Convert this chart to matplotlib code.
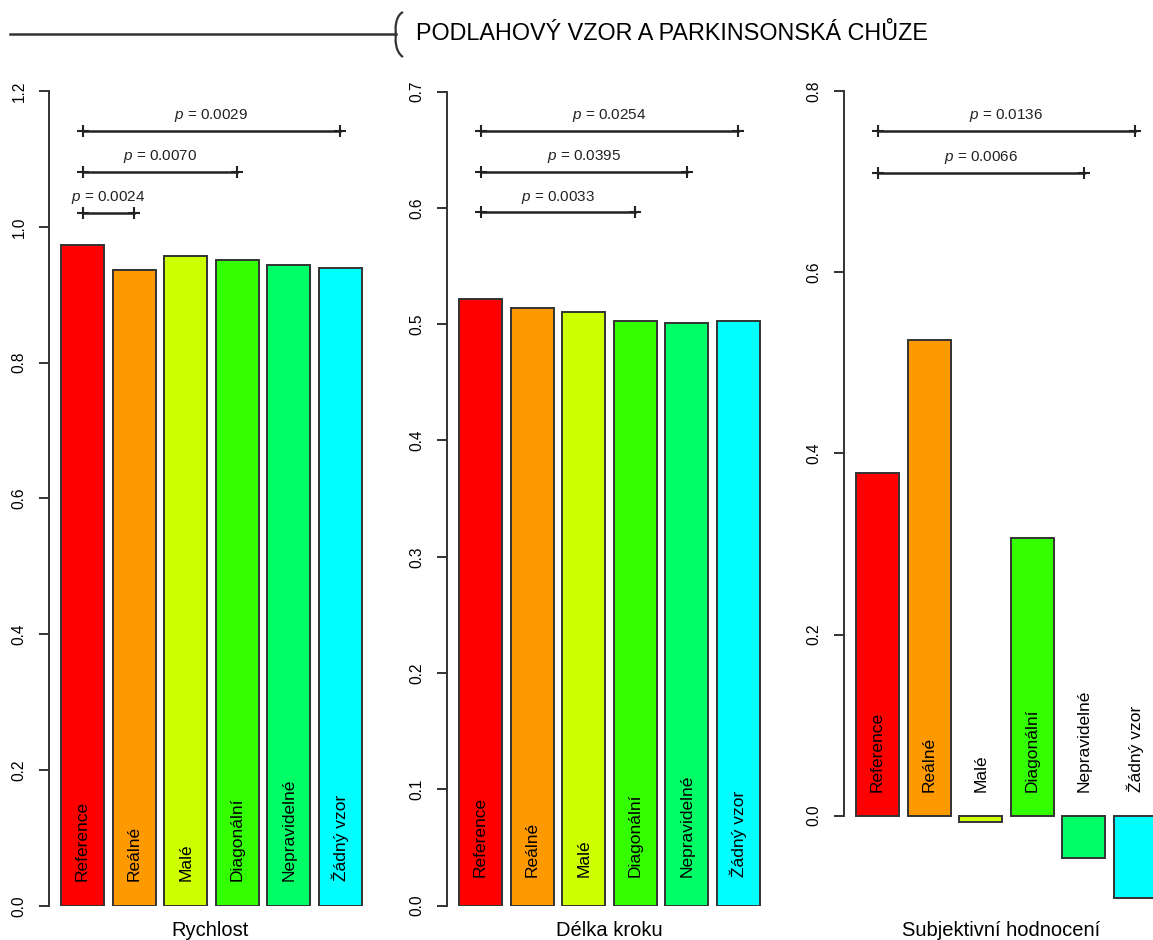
import matplotlib
matplotlib.use("Agg")
import matplotlib.pyplot as plt
from matplotlib.path import Path
from matplotlib.patches import PathPatch

plt.rcParams['font.family'] = ['Liberation Sans', 'DejaVu Sans']
plt.rcParams['mathtext.fontset'] = 'custom'
plt.rcParams['mathtext.it'] = 'Liberation Sans:italic'
plt.rcParams['mathtext.rm'] = 'Liberation Sans'

W, H = 1153, 940
DARK = '#222222'

# ---- data ----
categories = ['Reference', 'Reálné', 'Malé', 'Diagonální', 'Nepravidelné', 'Žádný vzor']
colors = ['#FF0000', '#FF9900', '#CCFF00', '#33FF00', '#00FF66', '#00FFFF']

titles = ['Rychlost', 'Délka kroku', 'Subjektivní hodnocení']
speed = [0.973, 0.937, 0.957, 0.951, 0.944, 0.940]
step_len = [0.522, 0.514, 0.510, 0.503, 0.501, 0.503]
subjective = [0.378, 0.525, -0.007, 0.307, -0.047, -0.091]
values = [speed, step_len, subjective]

yticks = [[0.0, 0.2, 0.4, 0.6, 0.8, 1.0, 1.2],
          [0.0, 0.1, 0.2, 0.3, 0.4, 0.5, 0.6, 0.7],
          [0.0, 0.2, 0.4, 0.6, 0.8]]

# significance brackets: (from bar, to bar, height, p-value)
p_speed = [(0, 5, 1.141, '0.0029'), (0, 3, 1.081, '0.0070'), (0, 1, 1.021, '0.0024')]
p_step = [(0, 5, 0.666, '0.0254'), (0, 4, 0.631, '0.0395'), (0, 3, 0.596, '0.0033')]
p_subj = [(0, 5, 0.756, '0.0136'), (0, 4, 0.710, '0.0066')]
p_rows = [p_speed, p_step, p_subj]

# ---- layout (pixel geometry) ----
ylims = [(0, 1.2), (0, 0.7), (-0.0997, 0.8)]
ax_left = [49, 447, 844]
ax_top = [91, 91.5, 91]
ax_bot = [906, 905.7, 906]
label_y = [0.037, 0.025, 0.026]
title_x = [210, 609, 1001]
ax_w = 325

fig = plt.figure(figsize=(W / 100, H / 100), dpi=100)

centers = [0.7 + 1.2 * i for i in range(len(categories))]

for k in range(3):
    l, t, b = ax_left[k], ax_top[k], ax_bot[k]
    ax = fig.add_axes([l / W, 1 - b / H, ax_w / W, (b - t) / H])
    ax.set_xlim(-0.08, 7.48)
    ax.set_ylim(*ylims[k])
    ax.bar(centers, values[k], width=1.0, color=colors, edgecolor='#333333',
           linewidth=1.4)
    for x, name in zip(centers, categories):
        ax.text(x, label_y[k], name, rotation=90, ha='center', va='bottom',
                fontsize=12.5, color='black')
    for i0, i1, y, p in p_rows[k]:
        ax.plot([centers[i0], centers[i1]], [y, y], color=DARK, lw=1.8,
                marker='+', ms=9, mew=1.5)
        ax.annotate('$p$ = ' + p, ((centers[i0] + centers[i1]) / 2, y),
                    xytext=(0, 5), textcoords='offset points',
                    ha='center', va='bottom', fontsize=11, color=DARK)
    for s in ['top', 'right', 'bottom']:
        ax.spines[s].set_visible(False)
    ax.spines['left'].set_bounds(yticks[k][0], yticks[k][-1])
    ax.spines['left'].set_color('#333333')
    ax.spines['left'].set_linewidth(1.4)
    ax.set_xticks([])
    ax.set_yticks(yticks[k])
    ax.set_yticklabels([f'{v:.1f}' for v in yticks[k]], rotation=90,
                       va='center', fontsize=11.2)
    ax.tick_params(axis='y', length=7, width=1.4, color='#333333', pad=9)
    ax.patch.set_visible(False)
    fig.text(title_x[k] / W, 1 - 930 / H, titles[k], ha='center', va='center',
             fontsize=14.5, color='black')

# ---- header: line + bracket + title ----
hdr = fig.add_axes([0, 0, 1, 1])
hdr.set_xlim(0, W)
hdr.set_ylim(H, 0)
hdr.axis('off')
hdr.patch.set_visible(False)
hdr.plot([10, 396], [34, 34], color='#333333', lw=1.8)
brace = Path([(403, 12), (395, 16), (395, 30), (396, 34),
              (395, 38), (395, 52), (403, 57)],
             [Path.MOVETO, Path.CURVE4, Path.CURVE4, Path.CURVE4,
              Path.CURVE4, Path.CURVE4, Path.CURVE4])
hdr.add_patch(PathPatch(brace, fill=False, edgecolor='#333333', lw=1.6))
hdr.text(416, 34, 'PODLAHOVÝ VZOR A PARKINSONSKÁ CHŮZE', ha='left', va='center',
         fontsize=16.8, color='black')

fig.savefig('out.png', dpi=100)
